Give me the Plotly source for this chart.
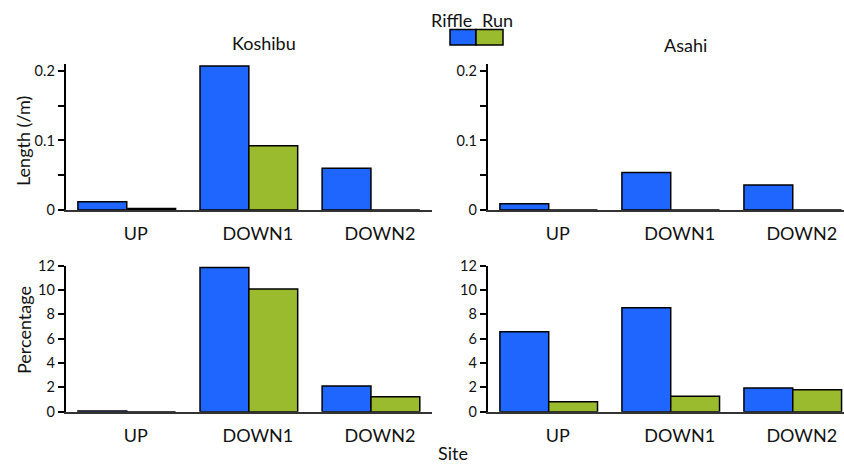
import plotly.graph_objects as go

sites = ["UP", "DOWN1", "DOWN2"]
rivers = ["Koshibu", "Asahi"]
series = ["Riffle", "Run"]

koshibu_length_riffle = [0.012, 0.207, 0.060]
koshibu_length_run = [0.002, 0.0925, 0.0]
asahi_length_riffle = [0.009, 0.054, 0.036]
asahi_length_run = [0.0, 0.0, 0.0]

koshibu_pct_riffle = [0.05, 11.86, 2.11]
koshibu_pct_run = [0.0, 10.08, 1.23]
asahi_pct_riffle = [6.58, 8.55, 1.95]
asahi_pct_run = [0.82, 1.26, 1.81]

length_ticks = [0, 0.05, 0.1, 0.15, 0.2]
length_ticktext = ["0", "", "0.1", "", "0.2"]
pct_ticks = [0, 2, 4, 6, 8, 10, 12]

BLUE = "#1F66FF"
GREEN = "#9ABB2E"
FONT = "Lato"
TXT = "#111111"

W, H = 844, 470

def px_x(v):
    return v / W

def px_y(v):
    return 1 - v / H

fig = go.Figure()

panels = [
    ("x", "y", koshibu_length_riffle, koshibu_length_run),
    ("x2", "y2", asahi_length_riffle, asahi_length_run),
    ("x3", "y3", koshibu_pct_riffle, koshibu_pct_run),
    ("x4", "y4", asahi_pct_riffle, asahi_pct_run),
]
for xa, ya, rif, run in panels:
    for name, vals, col in [(series[0], rif, BLUE), (series[1], run, GREEN)]:
        fig.add_trace(go.Bar(
            x=sites, y=vals, name=name, xaxis=xa, yaxis=ya,
            marker=dict(color=col, line=dict(color="#000000", width=1.5)),
            showlegend=False,
        ))

left_dom = [px_x(65.7), px_x(432)]
right_dom = [px_x(487.7), 1.0]
top_dom = [px_y(210), px_y(64)]
bot_dom = [px_y(411.7), px_y(265.7)]

def xaxis(dom, rng, anchor):
    return dict(
        domain=dom, range=rng, anchor=anchor, type="category",
        showline=True, linecolor="#333333", linewidth=1.5,
        ticks="", showgrid=False, zeroline=False, automargin=False,
        tickfont=dict(family=FONT, size=18, color=TXT),
        ticklabelstandoff=7, ticklabelshift=9,
        fixedrange=True,
    )

def yaxis(dom, rng, anchor, tv, tt):
    return dict(
        domain=dom, range=rng, anchor=anchor,
        showline=True, linecolor="#000000", linewidth=2,
        ticks="outside", ticklen=6, tickwidth=1.5, tickcolor="#000000",
        tickvals=tv, ticktext=tt, automargin=False,
        showgrid=False, zeroline=False,
        tickfont=dict(family=FONT, size=14.5, color=TXT),
        fixedrange=True,
    )

fig.update_layout(
    width=W, height=H,
    margin=dict(l=0, r=0, t=0, b=0, pad=0),
    paper_bgcolor="white", plot_bgcolor="white",
    barmode="group", bargap=0.2, bargroupgap=0,
    showlegend=False,
    xaxis=xaxis(left_dom, [-0.5, 2.5], "y"),
    xaxis2=xaxis(right_dom, [-0.5, 2.42], "y2"),
    xaxis3=xaxis(left_dom, [-0.5, 2.5], "y3"),
    xaxis4=xaxis(right_dom, [-0.5, 2.42], "y4"),
    yaxis=yaxis(top_dom, [0, 0.21], "x", length_ticks, length_ticktext),
    yaxis2=yaxis(top_dom, [0, 0.21], "x2", length_ticks, length_ticktext),
    yaxis3=yaxis(bot_dom, [0, 12], "x3", pct_ticks, [str(t) for t in pct_ticks]),
    yaxis4=yaxis(bot_dom, [0, 12], "x4", pct_ticks, [str(t) for t in pct_ticks]),
)

ann_font = dict(family=FONT, size=18, color=TXT)
annotations = [
    dict(text=rivers[0], x=px_x(264), y=px_y(43)),
    dict(text=rivers[1], x=px_x(685.5), y=px_y(45)),
    dict(text="Length (/m)", x=px_x(23), y=px_y(141), textangle=-90),
    dict(text="Percentage", x=px_x(24), y=px_y(330), textangle=-90),
    dict(text="Site", x=px_x(453), y=px_y(453)),
    dict(text=series[0], x=px_x(451.5), y=px_y(20)),
    dict(text=series[1], x=px_x(497.5), y=px_y(20)),
]
for a in annotations:
    a.update(xref="paper", yref="paper", showarrow=False, font=ann_font,
             xanchor="center", yanchor="middle")
fig.update_layout(annotations=annotations)

fig.add_shape(type="rect", xref="paper", yref="paper",
              x0=px_x(450), x1=px_x(476), y0=px_y(45), y1=px_y(29.5),
              fillcolor=BLUE, line=dict(color="#000000", width=1.5))
fig.add_shape(type="rect", xref="paper", yref="paper",
              x0=px_x(476), x1=px_x(503), y0=px_y(45), y1=px_y(29.5),
              fillcolor=GREEN, line=dict(color="#000000", width=1.5))

fig.write_html("out.html", config={"displayModeBar": False},
               post_script="document.documentElement.style.margin='0';document.body.style.margin='0';document.body.style.padding='0';document.body.style.overflow='hidden';")
